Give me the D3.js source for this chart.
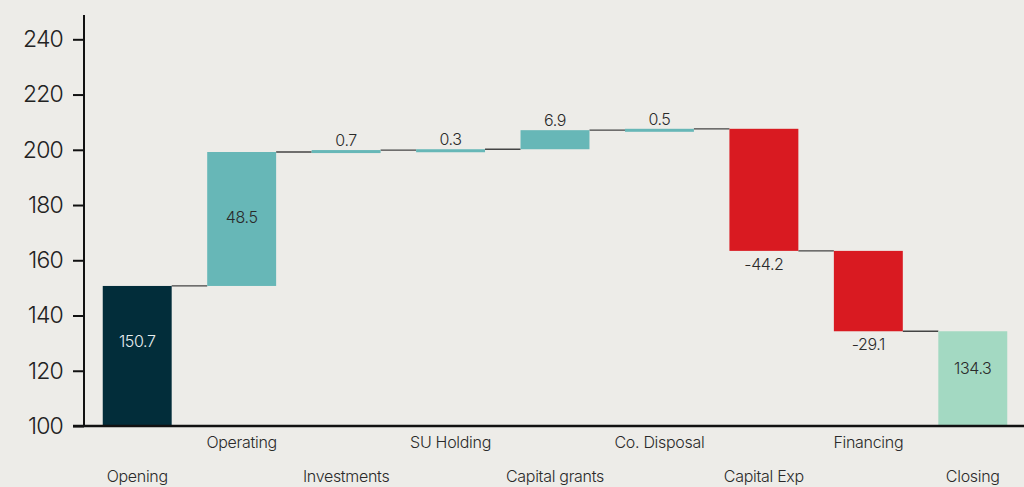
<!DOCTYPE html>
<html>
<head>
<meta charset="utf-8">
<script src="https://cdn.jsdelivr.net/npm/d3@7"></script>
<style>
  body { margin: 0; background: #edece8; }
  svg { display: block; font-family: Inter, "Liberation Sans", sans-serif; font-weight: 300; }
</style>
</head>
<body>
<div id="chart"></div>
<script>
var categories = ["Opening", "Operating", "Investments", "SU Holding", "Capital grants",
                  "Co. Disposal", "Capital Exp", "Financing", "Closing"];
var values = [150.7, 48.5, 0.7, 0.3, 6.9, 0.5, -44.2, -29.1, 134.3];
var kinds = ["total", "delta", "delta", "delta", "delta", "delta", "delta", "delta", "total"];
var yTicks = [100, 120, 140, 160, 180, 200, 220, 240];

var width = 1024, height = 487;
var margin = { top: 15, right: 0, bottom: 61, left: 85 };

var svg = d3.select("#chart").append("svg")
    .attr("width", width)
    .attr("height", height);

// build the waterfall steps
var running = 0;
var bars = categories.map(function(c, i) {
  var v = values[i], start, end;
  if (kinds[i] === "total") { start = 100; end = v; running = v; }
  else { start = running; end = running + v; running = end; }
  return { name: c, value: v, kind: kinds[i], start: start, end: end, i: i };
});

var x = d3.scaleBand()
    .domain(categories)
    .range([margin.left, width + 1])
    .paddingInner(0.34)
    .paddingOuter(0.17);

var y = d3.scaleLinear()
    .domain([100, 248.8])
    .range([height - margin.bottom, margin.top]);

function color(d) {
  if (d.kind === "total") return d.i === 0 ? "#022d3a" : "#a3d9c2";
  return d.value >= 0 ? "#67b7b7" : "#d91a21";
}

// connectors
svg.append("g").selectAll("line")
  .data(bars.slice(0, -1))
  .enter().append("line")
  .attr("x1", function(d) { return x(d.name) + x.bandwidth(); })
  .attr("x2", function(d) { return x(categories[d.i + 1]); })
  .attr("y1", function(d) { return y(d.kind === "total" ? d.value : d.end); })
  .attr("y2", function(d) { return y(d.kind === "total" ? d.value : d.end); })
  .attr("stroke", "#444")
  .attr("stroke-width", 1.3);

// bars
svg.append("g").selectAll("rect")
  .data(bars)
  .enter().append("rect")
  .attr("x", function(d) { return x(d.name); })
  .attr("width", x.bandwidth())
  .attr("y", function(d) { return y(Math.max(d.start, d.end)); })
  .attr("height", function(d) { return Math.max(3, Math.abs(y(d.start) - y(d.end))); })
  .attr("fill", color);

// value labels
svg.append("g").selectAll("text")
  .data(bars)
  .enter().append("text")
  .attr("text-anchor", "middle")
  .attr("font-size", 16)
  .attr("letter-spacing", "-0.4")
  .attr("x", function(d) { return x(d.name) + x.bandwidth() / 2; })
  .attr("y", function(d) {
    var top = y(Math.max(d.start, d.end)), bot = y(Math.min(d.start, d.end));
    var h = bot - top;
    if (d.kind === "total") return top + h * 0.4 + 5;
    if (d.value < 0) return bot + 19;
    if (h < 40) return top - 4;
    return top + h / 2 + 4;
  })
  .attr("fill", function(d) { return d.i === 0 ? "#e8eef0" : "#2a2a2a"; })
  .text(function(d) { return d.value.toFixed(1); });

// y axis
var yAxis = svg.append("g")
  .attr("transform", "translate(" + (margin.left - 1) + ",0)")
  .call(d3.axisLeft(y).tickValues(yTicks).tickSize(11).tickPadding(10).tickFormat(d3.format("d")));
yAxis.select(".domain").attr("d", "M0," + margin.top + "V" + (height - margin.bottom)).attr("stroke", "#111").attr("stroke-width", 2);
yAxis.selectAll(".tick line").attr("stroke", "#111").attr("stroke-width", 2);
yAxis.selectAll(".tick text").attr("font-size", 23).attr("fill", "#222").attr("font-family", "Inter, 'Liberation Sans', sans-serif").attr("font-weight", 300).attr("letter-spacing", "-0.8");

// x axis line
svg.append("line")
  .attr("x1", 73).attr("x2", width)
  .attr("y1", y(100)).attr("y2", y(100))
  .attr("stroke", "#111").attr("stroke-width", 2.5);

// category labels, staggered
svg.append("g").selectAll("text")
  .data(bars)
  .enter().append("text")
  .attr("text-anchor", "middle")
  .attr("font-size", 16)
  .attr("letter-spacing", "-0.3")
  .attr("fill", "#2a2a2a")
  .attr("x", function(d) { return x(d.name) + x.bandwidth() / 2; })
  .attr("y", function(d) { return d.i % 2 === 1 ? 448 : 482; })
  .text(function(d) { return d.name; });
</script>
</body>
</html>
